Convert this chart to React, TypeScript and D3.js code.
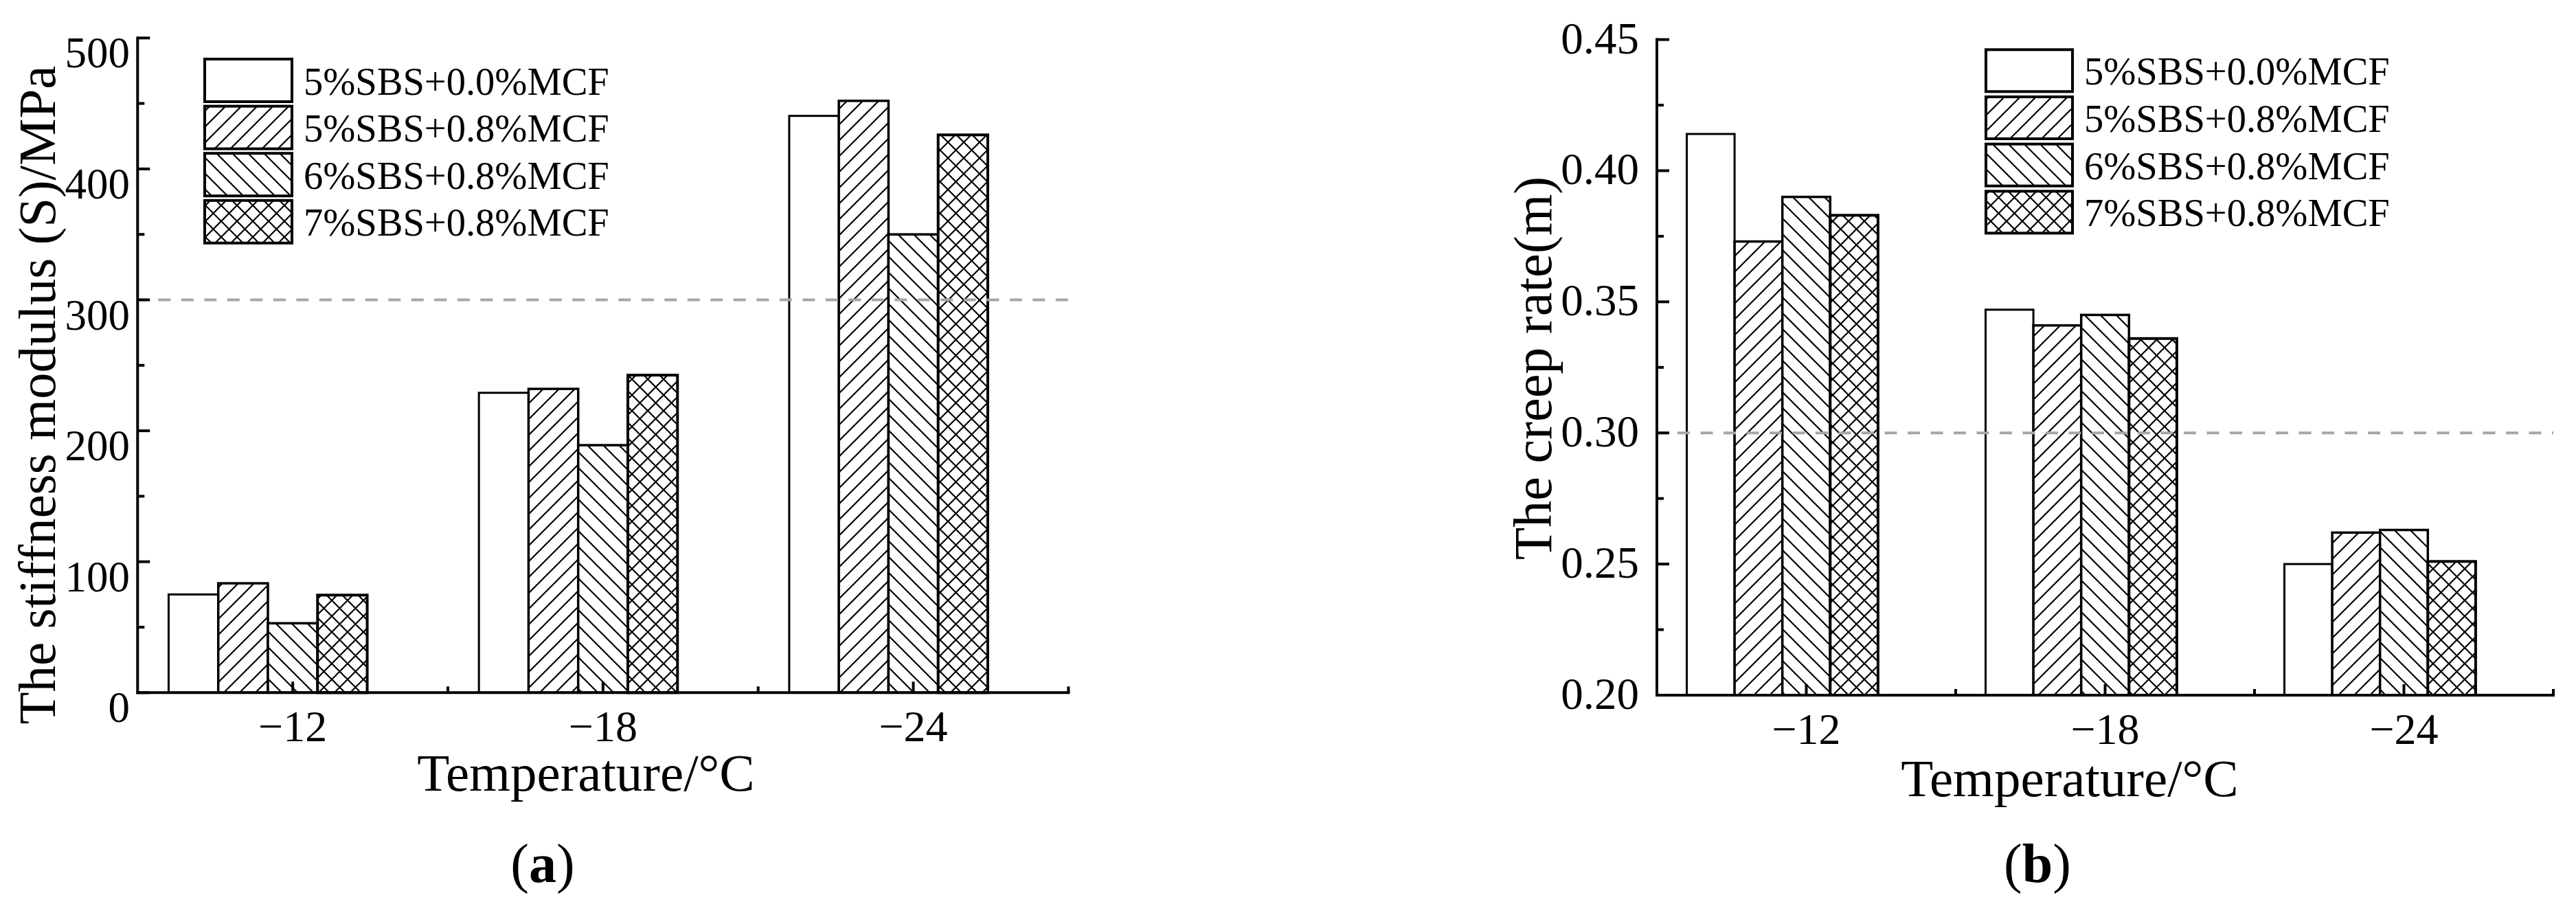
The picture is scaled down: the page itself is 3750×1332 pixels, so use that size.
import React from "react";
import * as d3 from "d3";

// ---------- data ----------
const categories = ["\u221212", "\u221218", "\u221224"];
const seriesNames = ["5%SBS+0.0%MCF", "5%SBS+0.8%MCF", "6%SBS+0.8%MCF", "7%SBS+0.8%MCF"];
const seriesFills = ["white", "url(#hatchFwd)", "url(#hatchBack)", "url(#hatchCross)"];

// (a) stiffness modulus S (MPa), one array per series, values for -12, -18, -24
const stiff_5SBS_00MCF = [75, 229, 440.5];
const stiff_5SBS_08MCF = [83.5, 232, 452];
const stiff_6SBS_08MCF = [53, 189, 350];
const stiff_7SBS_08MCF = [74.5, 242.5, 426];

// (b) creep rate m
const creep_5SBS_00MCF = [0.414, 0.347, 0.25];
const creep_5SBS_08MCF = [0.373, 0.341, 0.262];
const creep_6SBS_08MCF = [0.39, 0.345, 0.263];
const creep_7SBS_08MCF = [0.383, 0.336, 0.251];

const stiffTicks = [0, 100, 200, 300, 400, 500];
const creepTicks = [0.2, 0.25, 0.3, 0.35, 0.4, 0.45];

const FONT = '"Liberation Serif", "Times New Roman", Times, serif';

type Cfg = {
  series: number[][];
  xRange: [number, number];
  yDomain: [number, number];
  yRange: [number, number];
  ticks: number[];
  fmt: (v: number) => string;
  refLine: number;
  tickLabelX: number;
  tickLabelDy: number;
  tickFont: number;
  xLabelBaseline: number;
  yTitle: string;
  yTitleX: number;
  yTitleY: number;
  yTitleFont: number;
  xTitleX: number;
  xTitleY: number;
  legendX: number;
  legendY: number;
  legendW: number;
  legendH: number;
  legendStep: number;
  panel: string;
  panelX: number;
  panelY: number;
};

function Chart({ cfg }: { cfg: Cfg }) {
  const x = d3.scaleBand<string>().domain(categories).range(cfg.xRange).paddingInner(0).paddingOuter(0);
  const step = x.step();
  const inner = d3
    .scaleBand<string>()
    .domain([...seriesNames, "_gap"])
    .range([-0.4 * step, 0.4 * step]);
  const y = d3.scaleLinear().domain(cfg.yDomain).range(cfg.yRange);
  const x0 = cfg.xRange[0];
  const x1 = cfg.xRange[1];
  const yBase = y(cfg.yDomain[0]);
  const minor: number[] = [];
  for (let i = 0; i < cfg.ticks.length - 1; i++) minor.push((cfg.ticks[i] + cfg.ticks[i + 1]) / 2);
  const centers = categories.map((c) => (x(c) as number) + step / 2);
  const bounds = d3.range(1, categories.length + 1).map((i) => x0 + i * step);

  return (
    <g>
      {/* bars */}
      {cfg.series.map((vals, si) =>
        vals.map((v, ci) => {
          const cx = centers[ci];
          const bx = cx + (inner(seriesNames[si]) as number);
          const bw = inner.bandwidth();
          const top = y(v);
          return (
            <rect
              key={`b${si}-${ci}`}
              x={bx}
              y={top}
              width={bw}
              height={yBase - top}
              fill={seriesFills[si]}
              stroke="black"
              strokeWidth={si === 0 ? 3 : si === 3 ? 4 : 3.5}
            />
          );
        })
      )}
      {/* reference dashed line */}
      <line
        x1={x0}
        x2={x1}
        y1={y(cfg.refLine)}
        y2={y(cfg.refLine)}
        stroke="#a6a6a6"
        strokeWidth={4}
        strokeDasharray="18 15.5"
        strokeDashoffset={-30}
      />
      {/* y axis */}
      <line x1={x0} x2={x0} y1={y(cfg.yDomain[1])} y2={yBase} stroke="black" strokeWidth={4} strokeLinecap="square" />
      {cfg.ticks.map((t) => (
        <g key={`yt${t}`}>
          <line x1={x0} x2={x0 + 18} y1={y(t)} y2={y(t)} stroke="black" strokeWidth={4} />
          <text
            x={cfg.tickLabelX}
            y={y(t) + cfg.tickLabelDy}
            textAnchor="end"
            fontFamily={FONT}
            fontSize={cfg.tickFont}
          >
            {cfg.fmt(t)}
          </text>
        </g>
      ))}
      {minor.map((t) => (
        <line key={`ym${t}`} x1={x0} x2={x0 + 10} y1={y(t)} y2={y(t)} stroke="black" strokeWidth={4} />
      ))}
      {/* x axis */}
      <line x1={x0} x2={x1} y1={yBase} y2={yBase} stroke="black" strokeWidth={4} strokeLinecap="square" />
      {centers.map((cx, i) => (
        <g key={`xt${i}`}>
          <line x1={cx} x2={cx} y1={yBase} y2={yBase - 16} stroke="black" strokeWidth={4} />
          <text x={cx} y={cfg.xLabelBaseline} textAnchor="middle" fontFamily={FONT} fontSize={64}>
            {categories[i]}
          </text>
        </g>
      ))}
      {bounds.map((bx, i) => (
        <line key={`xm${i}`} x1={bx} x2={bx} y1={yBase} y2={yBase - 9} stroke="black" strokeWidth={4} />
      ))}
      {/* titles */}
      <text
        transform={`translate(${cfg.yTitleX},${cfg.yTitleY}) rotate(-90)`}
        textAnchor="middle"
        fontFamily={FONT}
        fontSize={cfg.yTitleFont}
      >
        {cfg.yTitle}
      </text>
      <text x={cfg.xTitleX} y={cfg.xTitleY} textAnchor="middle" fontFamily={FONT} fontSize={77}>
        Temperature/°C
      </text>
      {/* legend */}
      {seriesNames.map((name, i) => {
        const ly = cfg.legendY + i * cfg.legendStep;
        return (
          <g key={`lg${i}`}>
            <rect
              x={cfg.legendX}
              y={ly}
              width={cfg.legendW}
              height={cfg.legendH}
              fill={seriesFills[i]}
              stroke="black"
              strokeWidth={4}
            />
            <text
              x={cfg.legendX + cfg.legendW + 17}
              y={ly + cfg.legendH / 2 + 20.5}
              fontFamily={FONT}
              fontSize={56.5}
            >
              {name}
            </text>
          </g>
        );
      })}
      {/* panel label */}
      <text x={cfg.panelX} y={cfg.panelY} textAnchor="middle" fontFamily={FONT} fontSize={80}>
        (<tspan fontWeight="bold">{cfg.panel}</tspan>)
      </text>
    </g>
  );
}

export default function App() {
  const left: Cfg = {
    series: [stiff_5SBS_00MCF, stiff_5SBS_08MCF, stiff_6SBS_08MCF, stiff_7SBS_08MCF],
    xRange: [200.3, 1555.4],
    yDomain: [0, 500],
    yRange: [1008.3, 55.3],
    ticks: stiffTicks,
    fmt: d3.format("d"),
    refLine: 300,
    tickLabelX: 189,
    tickLabelDy: 43,
    tickFont: 63,
    xLabelBaseline: 1079,
    yTitle: "The stiffness modulus (S)/MPa",
    yTitleX: 80,
    yTitleY: 575,
    yTitleFont: 77,
    xTitleX: 853,
    xTitleY: 1151,
    legendX: 298,
    legendY: 86,
    legendW: 127,
    legendH: 62,
    legendStep: 68.6,
    panel: "a",
    panelX: 790,
    panelY: 1284,
  };
  const right: Cfg = {
    series: [creep_5SBS_00MCF, creep_5SBS_08MCF, creep_6SBS_08MCF, creep_7SBS_08MCF],
    xRange: [2412, 3717],
    yDomain: [0.2, 0.45],
    yRange: [1012, 57.6],
    ticks: creepTicks,
    fmt: d3.format(".2f"),
    refLine: 0.3,
    tickLabelX: 2386,
    tickLabelDy: 20,
    tickFont: 65,
    xLabelBaseline: 1083,
    yTitle: "The creep rate(m)",
    yTitleX: 2258,
    yTitleY: 536,
    yTitleFont: 78,
    xTitleX: 3013,
    xTitleY: 1159,
    legendX: 2891,
    legendY: 72.3,
    legendW: 126,
    legendH: 61,
    legendStep: 68.7,
    panel: "b",
    panelX: 2966,
    panelY: 1284,
  };
  const P = 23;
  return (
    <svg
      width={3750}
      height={1332}
      viewBox="0 0 3750 1332"
      style={{ position: "absolute", left: 0, top: 0, background: "white" }}
    >
      <defs>
        <pattern id="hatchFwd" patternUnits="userSpaceOnUse" width={P} height={P}>
          <rect width={P} height={P} fill="white" />
          <path
            d={`M0,${P} L${P},0 M-5,5 L5,-5 M${P - 5},${P + 5} L${P + 5},${P - 5}`}
            stroke="black"
            strokeWidth={2.2}
          />
        </pattern>
        <pattern id="hatchBack" patternUnits="userSpaceOnUse" width={P} height={P}>
          <rect width={P} height={P} fill="white" />
          <path
            d={`M0,0 L${P},${P} M-5,${P - 5} L5,${P + 5} M${P - 5},-5 L${P + 5},5`}
            stroke="black"
            strokeWidth={2.2}
          />
        </pattern>
        <pattern id="hatchCross" patternUnits="userSpaceOnUse" width={P} height={P}>
          <rect width={P} height={P} fill="white" />
          <path
            d={`M0,${P} L${P},0 M-5,5 L5,-5 M${P - 5},${P + 5} L${P + 5},${P - 5} M0,0 L${P},${P} M-5,${P - 5} L5,${P + 5} M${P - 5},-5 L${P + 5},5`}
            stroke="black"
            strokeWidth={2.2}
          />
        </pattern>
      </defs>
      <rect width={3750} height={1332} fill="white" />
      <Chart cfg={left} />
      <Chart cfg={right} />
    </svg>
  );
}
